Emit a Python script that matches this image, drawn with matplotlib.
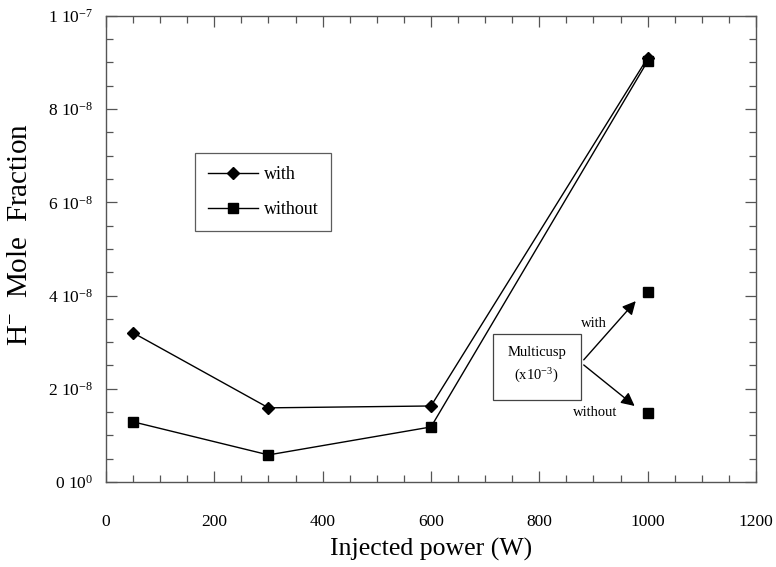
import matplotlib
matplotlib.use("Agg")
import matplotlib.pyplot as plt
from matplotlib.ticker import MultipleLocator

# Data
power = [50, 300, 600, 1000]
with_frac = [3.2e-8, 1.59e-8, 1.63e-8, 9.1e-8]
without_frac = [1.29e-8, 0.58e-8, 1.18e-8, 9.03e-8]

multicusp_power = [1000, 1000]
multicusp_frac = [4.08e-8, 1.48e-8]

x_ticks = [0, 200, 400, 600, 800, 1000, 1200]
y_ticks = [0, 2e-8, 4e-8, 6e-8, 8e-8, 1e-7]
y_tick_labels = [r"0 10$^{0}$", r"2 10$^{-8}$", r"4 10$^{-8}$",
                 r"6 10$^{-8}$", r"8 10$^{-8}$", r"1 10$^{-7}$"]

plt.rcParams.update({
    "font.family": ["Liberation Serif", "DejaVu Serif"],
    "mathtext.fontset": "custom",
    "mathtext.rm": "Liberation Serif",
    "mathtext.it": "Liberation Serif:italic",
    "mathtext.bf": "Liberation Serif:bold",
})

fig = plt.figure(figsize=(7.76, 5.67), dpi=100)
ax = fig.add_axes([0.1366, 0.150, 0.8376, 0.822])

ax.plot(power, with_frac, color="black", linewidth=1.0, marker="D",
        markersize=6, label="with")
ax.plot(power, without_frac, color="black", linewidth=1.0, marker="s",
        markersize=7, label="without")
ax.plot(multicusp_power, multicusp_frac, linestyle="none", color="black",
        marker="s", markersize=7)

ax.set_xlim(0, 1200)
ax.set_ylim(0, 1e-7)
ax.set_xticks(x_ticks)
ax.set_yticks(y_ticks)
ax.set_yticklabels(y_tick_labels)
ax.xaxis.set_minor_locator(MultipleLocator(50))
ax.yaxis.set_minor_locator(MultipleLocator(0.5e-8))

ax.tick_params(which="both", direction="in", top=True, right=True,
               color="#555555", width=0.9)
ax.tick_params(which="major", length=8, labelsize=12.5)
ax.tick_params(which="minor", length=5)
ax.tick_params(axis="x", which="major", pad=23)
ax.tick_params(axis="y", which="major", pad=9)
for side in ax.spines.values():
    side.set_color("#555555")
    side.set_linewidth(1.0)

ax.set_xlabel("Injected power (W)", fontsize=18.5, labelpad=6)
ax.set_ylabel(r"H$^{-}$  Mole  Fraction", fontsize=21)
ax.yaxis.set_label_coords(-0.112, 0.53)

leg = ax.legend(loc="upper left", bbox_to_anchor=(0.137, 0.705),
                fontsize=13, frameon=True, fancybox=False,
                edgecolor="#333333", borderpad=0.7, labelspacing=1.0,
                handlelength=2.8, handletextpad=0.3,
                borderaxespad=0.0)
leg.get_frame().set_linewidth(0.9)

# Multicusp annotation box and arrows
ax.text(795, 2.49e-8, "Multicusp\n" + r"(x10$^{-3}$)",
        fontsize=10.5, ha="center", va="center", linespacing=1.6,
        bbox=dict(boxstyle="square,pad=1.0", facecolor="white",
                  edgecolor="#444444", linewidth=0.9))
ax.annotate("", xy=(978, 3.88e-8), xytext=(882, 2.62e-8),
            arrowprops=dict(arrowstyle="-|>", color="black", lw=1.0,
                            mutation_scale=20, shrinkA=0, shrinkB=0))
ax.annotate("", xy=(976, 1.63e-8), xytext=(882, 2.51e-8),
            arrowprops=dict(arrowstyle="-|>", color="black", lw=1.0,
                            mutation_scale=20, shrinkA=0, shrinkB=0))
ax.text(901, 3.41e-8, "with", fontsize=10.5, ha="center", va="center")
ax.text(903, 1.5e-8, "without", fontsize=10.5, ha="center", va="center")

fig.savefig("out.png", dpi=100)
